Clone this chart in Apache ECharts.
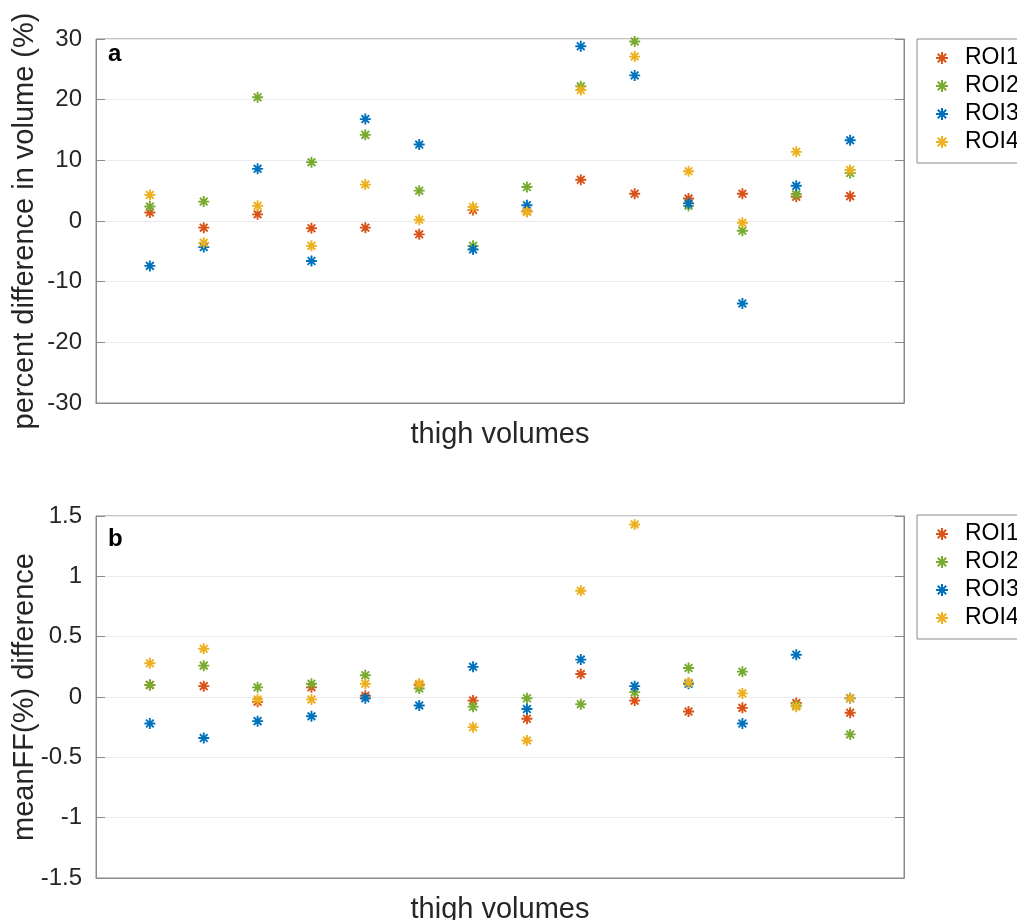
<!DOCTYPE html>
<html>
<head>
<meta charset="utf-8">
<script src="https://cdn.jsdelivr.net/npm/echarts@6/dist/echarts.min.js"></script>
<style>
html,body{margin:0;padding:0;background:#fff;}
#chart{width:1017px;height:920px;}
</style>
</head>
<body>
<div id="chart"></div>
<script>
// x positions (thigh volume index)
const thighIdx = [1, 2, 3, 4, 5, 6, 7, 8, 9, 10, 11, 12, 13, 14];
const seriesNames = ['ROI1', 'ROI2', 'ROI3', 'ROI4'];

// Panel a: percent difference in volume (%)
const roi1A = [1.4, -1.1, 1.1, -1.2, -1.1, -2.2, 1.8, 1.6, 6.8, 4.5, 3.7, 4.5, 4.0, 4.1];
const roi2A = [2.4, 3.2, 20.4, 9.7, 14.2, 5.0, -4.1, 5.6, 22.2, 29.6, 2.5, -1.6, 4.4, 7.9];
const roi3A = [-7.4, -4.3, 8.6, -6.6, 16.8, 12.6, -4.7, 2.6, 28.8, 24.0, 2.9, -13.6, 5.8, 13.3];
const roi4A = [4.3, -3.6, 2.5, -4.1, 6.0, 0.2, 2.3, 1.5, 21.6, 27.1, 8.2, -0.3, 11.4, 8.4];

// Panel b: meanFF(%) difference
const roi1B = [0.10, 0.09, -0.04, 0.08, 0.01, 0.10, -0.03, -0.18, 0.19, -0.03, -0.12, -0.09, -0.05, -0.13];
const roi2B = [0.10, 0.26, 0.08, 0.11, 0.18, 0.07, -0.08, -0.01, -0.06, 0.04, 0.24, 0.21, -0.07, -0.31];
const roi3B = [-0.22, -0.34, -0.20, -0.16, -0.01, -0.07, 0.25, -0.10, 0.31, 0.09, 0.11, -0.22, 0.35, -0.01];
const roi4B = [0.28, 0.40, -0.02, -0.02, 0.11, 0.11, -0.25, -0.36, 0.88, 1.43, 0.12, 0.03, -0.08, -0.01];

const colors = ['#D95319', '#77AC30', '#0072BD', '#EDB120'];
const FONT = "'Liberation Sans', Arial, Helvetica, sans-serif";
const STAR = 'path://M5 0L5 10M0 5L10 5M1.5 1.5L8.5 8.5M8.5 1.5L1.5 8.5';
const FRAME = '#8a8a8a';

const panelA = [roi1A, roi2A, roi3A, roi4A];
const panelB = [roi1B, roi2B, roi3B, roi4B];

function pairs(vals) { return thighIdx.map((x, i) => [x, vals[i]]); }

function mkSeries(arrs, gi) {
  return arrs.map((vals, k) => ({
    name: seriesNames[k],
    type: 'scatter',
    xAxisIndex: gi, yAxisIndex: gi * 2,
    symbol: STAR, symbolSize: 11,
    itemStyle: { color: colors[k], borderColor: colors[k], borderWidth: 1.9, opacity: 1 },
    emphasis: { disabled: true },
    data: pairs(vals)
  }));
}

function yAxes(gi, min, max, interval, name) {
  return [
    {
      type: 'value', gridIndex: gi, position: 'left', min, max, interval,
      name, nameLocation: 'middle', nameGap: 57, nameMoveOverlap: false,
      nameTextStyle: { fontFamily: FONT, fontSize: 29, color: '#262626' },
      axisLine: { show: true, lineStyle: { color: FRAME, width: 1 } },
      axisTick: { show: true, inside: true, length: 9, lineStyle: { color: FRAME } },
      axisLabel: { fontFamily: FONT, fontSize: 24, color: '#262626', margin: 14 },
      splitLine: { show: true, lineStyle: { color: '#ebebeb', width: 1 } }
    },
    {
      type: 'value', gridIndex: gi, position: 'right', min, max, interval,
      axisLine: { show: true, lineStyle: { color: FRAME, width: 1 } },
      axisTick: { show: true, inside: true, length: 9, lineStyle: { color: FRAME } },
      axisLabel: { show: false },
      splitLine: { show: false }
    }
  ];
}

function xAxis(gi) {
  return {
    type: 'value', gridIndex: gi, min: 0, max: 15,
    name: 'thigh volumes', nameLocation: 'middle', nameGap: 17, nameMoveOverlap: false,
    nameTextStyle: { fontFamily: FONT, fontSize: 29, color: '#262626', verticalAlign: 'top' },
    axisLine: { show: true, onZero: false, lineStyle: { color: FRAME } },
    axisTick: { show: false }, axisLabel: { show: false }, splitLine: { show: false }
  };
}

function legend(top) {
  return {
    left: 917, top, orient: 'vertical',
    data: seriesNames,
    backgroundColor: '#fff',
    borderColor: FRAME, borderWidth: 1, borderRadius: 0,
    padding: [7, 60, 9, 18],
    itemWidth: 36, itemHeight: 12, itemGap: 4,
    selectedMode: false,
    textStyle: { fontFamily: FONT, fontSize: 23, color: '#000', lineHeight: 24 }
  };
}

const chart = echarts.init(document.getElementById('chart'), null, { renderer: 'canvas' });
chart.setOption({
  backgroundColor: '#fff',
  animation: false,
  title: [
    { text: 'a', left: 108, top: 42, padding: 0, textStyle: { fontFamily: FONT, fontSize: 24, fontWeight: 'bold', color: '#000' } },
    { text: 'b', left: 108, top: 527, padding: 0, textStyle: { fontFamily: FONT, fontSize: 24, fontWeight: 'bold', color: '#000' } }
  ],
  legend: [legend(39), legend(515)],
  grid: [
    { left: 96, top: 39, width: 808, height: 364, show: true, borderColor: FRAME, borderWidth: 1, backgroundColor: 'transparent', containLabel: false, outerBoundsMode: 'none' },
    { left: 96, top: 516, width: 808, height: 362, show: true, borderColor: FRAME, borderWidth: 1, backgroundColor: 'transparent', containLabel: false, outerBoundsMode: 'none' }
  ],
  xAxis: [xAxis(0), xAxis(1)],
  yAxis: [
    ...yAxes(0, -30, 30, 10, 'percent difference in volume (%)'),
    ...yAxes(1, -1.5, 1.5, 0.5, 'meanFF(%) difference')
  ],
  series: [...mkSeries(panelA, 0), ...mkSeries(panelB, 1)]
});
</script>
</body>
</html>
